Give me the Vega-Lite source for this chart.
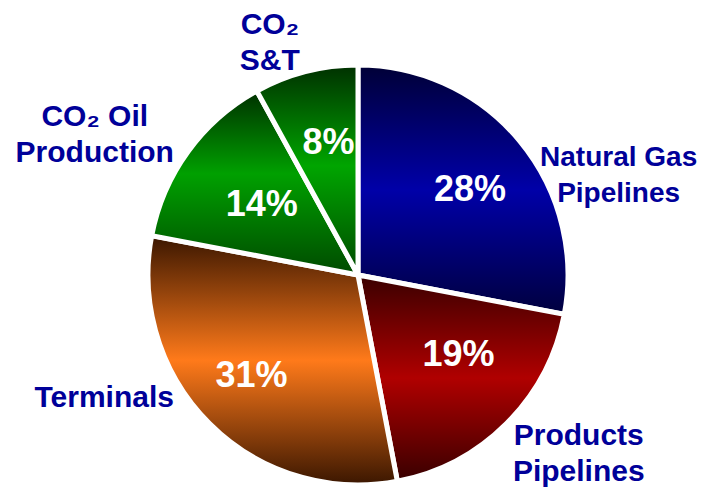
{
  "$schema": "https://vega.github.io/schema/vega-lite/v6.json",
  "autosize": {"type": "none"},
  "width": 716,
  "height": 432,
  "padding": {"left": 0, "top": 59, "right": 4, "bottom": -1},
  "background": "white",
  "config": {"view": {"stroke": null}},
  "data": {
    "values": [
      {"cat": "NG", "label": "Natural Gas\nPipelines", "share": 28, "pct": "28%", "o": 1},
      {"cat": "PP", "label": "Products\nPipelines", "share": 19, "pct": "19%", "o": 2},
      {"cat": "T", "label": "Terminals", "share": 31, "pct": "31%", "o": 3},
      {"cat": "OIL", "label": "CO₂ Oil\nProduction", "share": 14, "pct": "14%", "o": 4},
      {"cat": "ST", "label": "CO₂\nS&T", "share": 8, "pct": "8%", "o": 5}
    ]
  },
  "encoding": {
    "theta": {"field": "share", "type": "quantitative", "stack": true},
    "order": {"field": "o", "type": "quantitative"}
  },
  "layer": [
    {
      "mark": {"type": "arc", "radius": 210, "stroke": "white", "strokeWidth": 5},
      "encoding": {
        "color": {
          "condition": [
            {"test": "datum.cat==='NG'", "value": {"gradient": "linear", "x1": 0, "y1": 0, "x2": 0, "y2": 1, "stops": [{"offset": 0, "color": "#000036"}, {"offset": 0.5, "color": "#0000A8"}, {"offset": 1, "color": "#00003e"}]}},
            {"test": "datum.cat==='PP'", "value": {"gradient": "linear", "x1": 0, "y1": 0, "x2": 0, "y2": 1, "stops": [{"offset": 0, "color": "#3a0000"}, {"offset": 0.5, "color": "#B00000"}, {"offset": 1, "color": "#380000"}]}},
            {"test": "datum.cat==='T'", "value": {"gradient": "linear", "x1": 0, "y1": 0, "x2": 0, "y2": 1, "stops": [{"offset": 0, "color": "#3a1600"}, {"offset": 0.5, "color": "#FF7A1A"}, {"offset": 1, "color": "#3a1600"}]}},
            {"test": "datum.cat==='OIL'", "value": {"gradient": "linear", "x1": 0, "y1": 0, "x2": 0, "y2": 1, "stops": [{"offset": 0, "color": "#003000"}, {"offset": 0.45, "color": "#00A000"}, {"offset": 1, "color": "#004a00"}]}}
          ],
          "value": {"gradient": "linear", "x1": 0, "y1": 0, "x2": 0, "y2": 1, "stops": [{"offset": 0, "color": "#003000"}, {"offset": 0.48, "color": "#00A500"}, {"offset": 1, "color": "#004a00"}]}
        }
      }
    },
    {"mark": {"type": "text", "radius": 135, "dx": 8, "dy": 1, "font": "Liberation Sans", "fontWeight": "bold", "fontSize": 36, "color": "white", "align": "center", "baseline": "middle"},
     "encoding": {"text": {"condition": {"test": "datum.cat==='NG'", "field": "pct"}, "value": ""}}},
    {"mark": {"type": "text", "radius": 135, "dx": 5, "dy": -15, "font": "Liberation Sans", "fontWeight": "bold", "fontSize": 36, "color": "white", "align": "center", "baseline": "middle"},
     "encoding": {"text": {"condition": {"test": "datum.cat==='PP'", "field": "pct"}, "value": ""}}},
    {"mark": {"type": "text", "radius": 135, "dx": -11, "dy": 6, "font": "Liberation Sans", "fontWeight": "bold", "fontSize": 36, "color": "white", "align": "center", "baseline": "middle"},
     "encoding": {"text": {"condition": {"test": "datum.cat==='T'", "field": "pct"}, "value": ""}}},
    {"mark": {"type": "text", "radius": 135, "dx": 13, "dy": 9, "font": "Liberation Sans", "fontWeight": "bold", "fontSize": 36, "color": "white", "align": "center", "baseline": "middle"},
     "encoding": {"text": {"condition": {"test": "datum.cat==='OIL'", "field": "pct"}, "value": ""}}},
    {"mark": {"type": "text", "radius": 135, "dx": 4, "dy": -1, "font": "Liberation Sans", "fontWeight": "bold", "fontSize": 36, "color": "white", "align": "center", "baseline": "middle"},
     "encoding": {"text": {"condition": {"test": "datum.cat==='ST'", "field": "pct"}, "value": ""}}},
    {"mark": {"type": "text", "radius": 250, "dx": 68, "dy": 42, "font": "Liberation Sans", "fontWeight": "bold", "fontSize": 28, "lineHeight": 36, "lineBreak": "\n", "color": "#000099", "align": "center", "baseline": "middle"},
     "encoding": {"text": {"condition": {"test": "datum.cat==='NG'", "field": "label"}, "value": ""}}},
    {"mark": {"type": "text", "radius": 250, "dx": 44, "dy": -16, "font": "Liberation Sans", "fontWeight": "bold", "fontSize": 30, "lineHeight": 36, "lineBreak": "\n", "color": "#000099", "align": "center", "baseline": "middle"},
     "encoding": {"text": {"condition": {"test": "datum.cat==='PP'", "field": "label"}, "value": ""}}},
    {"mark": {"type": "text", "radius": 250, "dx": -77, "dy": -54, "font": "Liberation Sans", "fontWeight": "bold", "fontSize": 30, "lineHeight": 36, "lineBreak": "\n", "color": "#000099", "align": "center", "baseline": "middle"},
     "encoding": {"text": {"condition": {"test": "datum.cat==='T'", "field": "label"}, "value": ""}}},
    {"mark": {"type": "text", "radius": 250, "dx": -61, "dy": -11, "font": "Liberation Sans", "fontWeight": "bold", "fontSize": 30, "lineHeight": 36, "lineBreak": "\n", "color": "#000099", "align": "center", "baseline": "middle"},
     "encoding": {"text": {"condition": {"test": "datum.cat==='OIL'", "field": "label"}, "value": ""}}},
    {"mark": {"type": "text", "radius": 250, "dx": -26, "dy": -8, "font": "Liberation Sans", "fontWeight": "bold", "fontSize": 30, "lineHeight": 36, "lineBreak": "\n", "color": "#000099", "align": "center", "baseline": "middle"},
     "encoding": {"text": {"condition": {"test": "datum.cat==='ST'", "field": "label"}, "value": ""}}}
  ]
}
